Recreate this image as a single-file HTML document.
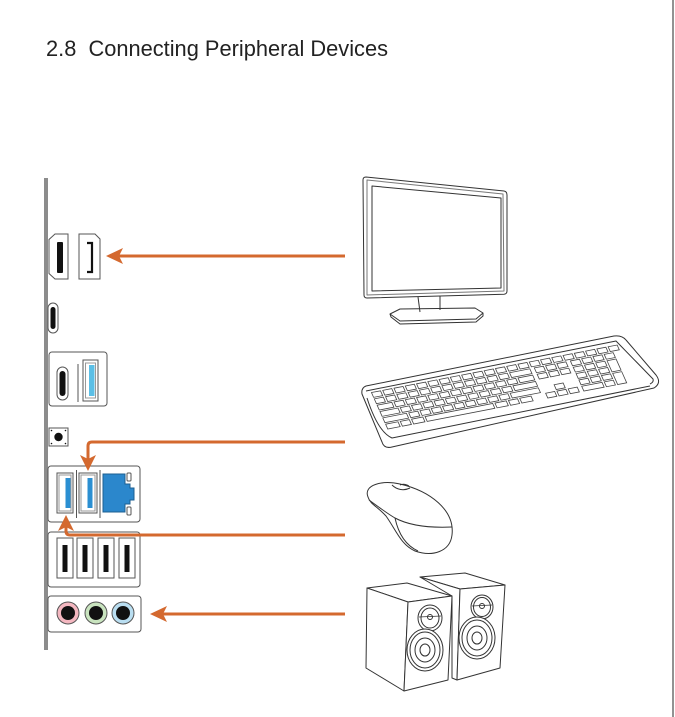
<!DOCTYPE html>
<html><head><meta charset="utf-8"><style>
html,body{margin:0;padding:0;background:#fff;}
svg{display:block;}
</style></head><body>
<svg width="675" height="717" viewBox="0 0 675 717" xmlns="http://www.w3.org/2000/svg">
<rect width="675" height="717" fill="#fff"/>
<line x1="673" y1="0" x2="673" y2="717" stroke="#777" stroke-width="1.6"/>
<text x="46" y="56" font-family="Liberation Sans, sans-serif" font-size="22" fill="#222" textLength="342" lengthAdjust="spacingAndGlyphs" style="white-space:pre">2.8  Connecting Peripheral Devices</text>

<!-- gray bar -->
<rect x="44" y="178" width="4" height="472" fill="#8c8c8c"/>

<g stroke="#555" stroke-width="1" fill="#fff">
<!-- HDMI -->
<path d="M55,234 H68 V279 H55 L49,273.5 V239.5 Z"/>
<rect x="57" y="242" width="6" height="31" rx="1" fill="#111" stroke="none"/>
<!-- DP -->
<path d="M79,234 H95 L100,239 V279 H79 Z"/>
<path d="M87,243 H92 V272 H87" fill="none" stroke="#111" stroke-width="2.2"/>
<!-- USB-C single -->
<rect x="48" y="303" width="10" height="30" rx="5"/>
<rect x="50.5" y="307" width="5" height="22" rx="2.5" fill="#111" stroke="none"/>
<!-- box with USB-C + USB-A -->
<rect x="49" y="352" width="58" height="54" rx="3"/>
<rect x="57" y="367" width="11" height="33" rx="5.5"/>
<rect x="59.5" y="371" width="6" height="25" rx="3" fill="#111" stroke="none"/>
<line x1="78" y1="364" x2="78" y2="402"/>
<rect x="83" y="360" width="15" height="41"/>
<rect x="85.5" y="363" width="10" height="35" stroke="#999"/>
<rect x="89" y="365" width="5.5" height="31" fill="#5bbfe6" stroke="none"/>
<!-- reset button -->
<rect x="49" y="428" width="19" height="18"/>
<circle cx="58.5" cy="437" r="4.2" fill="#111" stroke="none"/>
<circle cx="51.5" cy="430.5" r="0.8" fill="#111" stroke="none"/>
<circle cx="65.5" cy="430.5" r="0.8" fill="#111" stroke="none"/>
<circle cx="51.5" cy="443.5" r="0.8" fill="#111" stroke="none"/>
<circle cx="65.5" cy="443.5" r="0.8" fill="#111" stroke="none"/>
<!-- box USB + LAN -->
<rect x="48" y="466" width="92" height="56" rx="3"/>
<rect x="57" y="473" width="16" height="40"/>
<rect x="59" y="475" width="12" height="36" stroke="#999"/>
<rect x="65.5" y="478" width="5" height="30" fill="#2b8fd2" stroke="none"/>
<line x1="76.5" y1="470" x2="76.5" y2="518"/>
<rect x="79" y="473" width="18" height="40"/>
<rect x="81" y="475" width="14" height="36" stroke="#999"/>
<rect x="87.5" y="478" width="5" height="30" fill="#2b8fd2" stroke="none"/>
<line x1="100" y1="470" x2="100" y2="518"/>
<path d="M103,474 H125 V484 H130 V488 H134 V500 H130 V504 H125 V512 H103 Z" fill="#2b87cc" stroke="#1d5f91"/>
<rect x="127" y="473" width="4" height="8" rx="1"/>
<rect x="127" y="507" width="4" height="8" rx="1"/>
<!-- box 4 USB -->
<rect x="48" y="532" width="92" height="55" rx="3"/>
<rect x="57" y="538" width="16" height="40"/>
<rect x="62.5" y="545" width="5" height="27" fill="#111" stroke="none"/>
<rect x="77" y="538" width="16" height="40"/>
<rect x="82.5" y="545" width="5" height="27" fill="#111" stroke="none"/>
<rect x="98" y="538" width="16" height="40"/>
<rect x="103.5" y="545" width="5" height="27" fill="#111" stroke="none"/>
<rect x="119" y="538" width="16" height="40"/>
<rect x="124.5" y="545" width="5" height="27" fill="#111" stroke="none"/>
<!-- audio -->
<rect x="48" y="596" width="93" height="36" rx="3"/>
<circle cx="68" cy="613" r="11" fill="#f4b7c0"/>
<circle cx="68" cy="613" r="7" fill="#111" stroke="none"/>
<circle cx="96" cy="613" r="11" fill="#c9e4bf"/>
<circle cx="96" cy="613" r="7" fill="#111" stroke="none"/>
<circle cx="123" cy="613" r="11" fill="#b9def1"/>
<circle cx="123" cy="613" r="7" fill="#111" stroke="none"/>
</g>

<!-- arrows -->
<g stroke="#d4692f" stroke-width="3" fill="none">
<line x1="345" y1="256" x2="117" y2="256"/>
<path d="M345,442 H92 Q88,442 88,446 V460"/>
<path d="M345,535 H70 Q66,535 66,531 V526"/>
<line x1="345" y1="614" x2="161" y2="614"/>
</g>
<g fill="#d4692f">
<polygon points="106,256 123,248 119,256 123,264"/>
<polygon points="88,471 80,455 88,459 96,455"/>
<polygon points="66,515 58,531 66,527 74,531"/>
<polygon points="150,614 167,606 163,614 167,622"/>
</g>

<!-- monitor -->
<g stroke="#333" stroke-width="1" fill="none" stroke-linejoin="round">
<path d="M366,177 L504,191 Q507,191.5 507,195 V291 Q507,294 504,294.3 L367,298 Q364,298 364,295 L363,180 Q363,177 366,177 Z"/>
<path d="M367,180 L503,194 L504,291 L367,295 Z" stroke="#777"/>
<path d="M372,186 L501,198 L501,288 L372,291 Z"/>
<path d="M418,297 L420,312 M440,296 L440,310"/>
<path d="M390,314 L400,309 L475,308 L483,313 L476,319 L400,321 Z"/>
<path d="M390,314 L391,317 L400,324 L476,322 L483,316 L483,313"/>
</g>

<!-- keyboard -->
<g stroke="#333" stroke-width="1" fill="none" stroke-linejoin="round">
<path d="M366,386 L614,336 Q622,335 626,340 L656,375 Q662,383 654,388 L392,447 Q384,449 382,442 L362,394 Q361,388 366,386 Z"/>
<path d="M366,391 L616,341 L653,379 Q654,382 650,384"/>
<path d="M367,398 Q378,432 392,438 L650,386"/>
</g>
<g transform="matrix(11.27,-2.18,2.83,6.33,370,392)" fill="#fff" stroke="#444">
<g id="row">
<rect x="0.1" y="0.12" width="0.8" height="0.76" vector-effect="non-scaling-stroke" stroke-width="0.8"/>
</g>
</g>
<svg x="0" y="0" width="675" height="717" overflow="visible">
<g transform="matrix(11.27,-2.18,2.83,6.33,370,392)" fill="#fff" stroke="#444">
<g>
<rect x="1.1" y="0.12" width="0.8" height="0.76" vector-effect="non-scaling-stroke" stroke-width="0.8"/>
<rect x="2.1" y="0.12" width="0.8" height="0.76" vector-effect="non-scaling-stroke" stroke-width="0.8"/>
<rect x="3.1" y="0.12" width="0.8" height="0.76" vector-effect="non-scaling-stroke" stroke-width="0.8"/>
<rect x="4.1" y="0.12" width="0.8" height="0.76" vector-effect="non-scaling-stroke" stroke-width="0.8"/>
<rect x="5.1" y="0.12" width="0.8" height="0.76" vector-effect="non-scaling-stroke" stroke-width="0.8"/>
<rect x="6.1" y="0.12" width="0.8" height="0.76" vector-effect="non-scaling-stroke" stroke-width="0.8"/>
<rect x="7.1" y="0.12" width="0.8" height="0.76" vector-effect="non-scaling-stroke" stroke-width="0.8"/>
<rect x="8.1" y="0.12" width="0.8" height="0.76" vector-effect="non-scaling-stroke" stroke-width="0.8"/>
<rect x="9.1" y="0.12" width="0.8" height="0.76" vector-effect="non-scaling-stroke" stroke-width="0.8"/>
<rect x="10.1" y="0.12" width="0.8" height="0.76" vector-effect="non-scaling-stroke" stroke-width="0.8"/>
<rect x="11.1" y="0.12" width="0.8" height="0.76" vector-effect="non-scaling-stroke" stroke-width="0.8"/>
<rect x="12.1" y="0.12" width="0.8" height="0.76" vector-effect="non-scaling-stroke" stroke-width="0.8"/>
<rect x="13.1" y="0.12" width="0.8" height="0.76" vector-effect="non-scaling-stroke" stroke-width="0.8"/>
<rect x="14.1" y="0.12" width="0.8" height="0.76" vector-effect="non-scaling-stroke" stroke-width="0.8"/>
<rect x="15.1" y="0.12" width="0.8" height="0.76" vector-effect="non-scaling-stroke" stroke-width="0.8"/>
<rect x="16.1" y="0.12" width="0.8" height="0.76" vector-effect="non-scaling-stroke" stroke-width="0.8"/>
<rect x="17.1" y="0.12" width="0.8" height="0.76" vector-effect="non-scaling-stroke" stroke-width="0.8"/>
<rect x="18.1" y="0.12" width="0.8" height="0.76" vector-effect="non-scaling-stroke" stroke-width="0.8"/>
<rect x="19.1" y="0.12" width="0.8" height="0.76" vector-effect="non-scaling-stroke" stroke-width="0.8"/>
<rect x="20.1" y="0.12" width="0.8" height="0.76" vector-effect="non-scaling-stroke" stroke-width="0.8"/>
<rect x="21.1" y="0.12" width="0.8" height="0.76" vector-effect="non-scaling-stroke" stroke-width="0.8"/>
</g>
<g transform="translate(0,1)">
<rect x="0.1" y="0.12" width="0.8" height="0.76" vector-effect="non-scaling-stroke" stroke-width="0.8"/>
<rect x="1.1" y="0.12" width="0.8" height="0.76" vector-effect="non-scaling-stroke" stroke-width="0.8"/>
<rect x="2.1" y="0.12" width="0.8" height="0.76" vector-effect="non-scaling-stroke" stroke-width="0.8"/>
<rect x="3.1" y="0.12" width="0.8" height="0.76" vector-effect="non-scaling-stroke" stroke-width="0.8"/>
<rect x="4.1" y="0.12" width="0.8" height="0.76" vector-effect="non-scaling-stroke" stroke-width="0.8"/>
<rect x="5.1" y="0.12" width="0.8" height="0.76" vector-effect="non-scaling-stroke" stroke-width="0.8"/>
<rect x="6.1" y="0.12" width="0.8" height="0.76" vector-effect="non-scaling-stroke" stroke-width="0.8"/>
<rect x="7.1" y="0.12" width="0.8" height="0.76" vector-effect="non-scaling-stroke" stroke-width="0.8"/>
<rect x="8.1" y="0.12" width="0.8" height="0.76" vector-effect="non-scaling-stroke" stroke-width="0.8"/>
<rect x="9.1" y="0.12" width="0.8" height="0.76" vector-effect="non-scaling-stroke" stroke-width="0.8"/>
<rect x="10.1" y="0.12" width="0.8" height="0.76" vector-effect="non-scaling-stroke" stroke-width="0.8"/>
<rect x="11.1" y="0.12" width="0.8" height="0.76" vector-effect="non-scaling-stroke" stroke-width="0.8"/>
<rect x="12.1" y="0.12" width="1.8" height="0.76" vector-effect="non-scaling-stroke" stroke-width="0.8"/>
<rect x="14.3" y="0.12" width="0.8" height="0.76" vector-effect="non-scaling-stroke" stroke-width="0.8"/>
<rect x="15.3" y="0.12" width="0.8" height="0.76" vector-effect="non-scaling-stroke" stroke-width="0.8"/>
<rect x="16.3" y="0.12" width="0.8" height="0.76" vector-effect="non-scaling-stroke" stroke-width="0.8"/>
<rect x="17.5" y="0.12" width="0.8" height="0.76" vector-effect="non-scaling-stroke" stroke-width="0.8"/>
<rect x="18.5" y="0.12" width="0.8" height="0.76" vector-effect="non-scaling-stroke" stroke-width="0.8"/>
<rect x="19.5" y="0.12" width="0.8" height="0.76" vector-effect="non-scaling-stroke" stroke-width="0.8"/>
<rect x="20.5" y="0.12" width="0.8" height="0.76" vector-effect="non-scaling-stroke" stroke-width="0.8"/>
</g>
<g transform="translate(0,2)">
<rect x="0.1" y="0.12" width="1.3" height="0.76" vector-effect="non-scaling-stroke" stroke-width="0.8"/>
<rect x="1.6" y="0.12" width="0.8" height="0.76" vector-effect="non-scaling-stroke" stroke-width="0.8"/>
<rect x="2.6" y="0.12" width="0.8" height="0.76" vector-effect="non-scaling-stroke" stroke-width="0.8"/>
<rect x="3.6" y="0.12" width="0.8" height="0.76" vector-effect="non-scaling-stroke" stroke-width="0.8"/>
<rect x="4.6" y="0.12" width="0.8" height="0.76" vector-effect="non-scaling-stroke" stroke-width="0.8"/>
<rect x="5.6" y="0.12" width="0.8" height="0.76" vector-effect="non-scaling-stroke" stroke-width="0.8"/>
<rect x="6.6" y="0.12" width="0.8" height="0.76" vector-effect="non-scaling-stroke" stroke-width="0.8"/>
<rect x="7.6" y="0.12" width="0.8" height="0.76" vector-effect="non-scaling-stroke" stroke-width="0.8"/>
<rect x="8.6" y="0.12" width="0.8" height="0.76" vector-effect="non-scaling-stroke" stroke-width="0.8"/>
<rect x="9.6" y="0.12" width="0.8" height="0.76" vector-effect="non-scaling-stroke" stroke-width="0.8"/>
<rect x="10.6" y="0.12" width="0.8" height="0.76" vector-effect="non-scaling-stroke" stroke-width="0.8"/>
<rect x="11.6" y="0.12" width="0.8" height="0.76" vector-effect="non-scaling-stroke" stroke-width="0.8"/>
<rect x="12.6" y="0.12" width="1.3" height="0.76" vector-effect="non-scaling-stroke" stroke-width="0.8"/>
<rect x="14.3" y="0.12" width="0.8" height="0.76" vector-effect="non-scaling-stroke" stroke-width="0.8"/>
<rect x="15.3" y="0.12" width="0.8" height="0.76" vector-effect="non-scaling-stroke" stroke-width="0.8"/>
<rect x="16.3" y="0.12" width="0.8" height="0.76" vector-effect="non-scaling-stroke" stroke-width="0.8"/>
<rect x="17.5" y="0.12" width="0.8" height="0.76" vector-effect="non-scaling-stroke" stroke-width="0.8"/>
<rect x="18.5" y="0.12" width="0.8" height="0.76" vector-effect="non-scaling-stroke" stroke-width="0.8"/>
<rect x="19.5" y="0.12" width="0.8" height="0.76" vector-effect="non-scaling-stroke" stroke-width="0.8"/>
<rect x="20.5" y="0.12" width="0.8" height="1.76" vector-effect="non-scaling-stroke" stroke-width="0.8"/>
</g>
<g transform="translate(0,3)">
<rect x="0.1" y="0.12" width="1.6" height="0.76" vector-effect="non-scaling-stroke" stroke-width="0.8"/>
<rect x="1.9" y="0.12" width="0.8" height="0.76" vector-effect="non-scaling-stroke" stroke-width="0.8"/>
<rect x="2.9" y="0.12" width="0.8" height="0.76" vector-effect="non-scaling-stroke" stroke-width="0.8"/>
<rect x="3.9" y="0.12" width="0.8" height="0.76" vector-effect="non-scaling-stroke" stroke-width="0.8"/>
<rect x="4.9" y="0.12" width="0.8" height="0.76" vector-effect="non-scaling-stroke" stroke-width="0.8"/>
<rect x="5.9" y="0.12" width="0.8" height="0.76" vector-effect="non-scaling-stroke" stroke-width="0.8"/>
<rect x="6.9" y="0.12" width="0.8" height="0.76" vector-effect="non-scaling-stroke" stroke-width="0.8"/>
<rect x="7.9" y="0.12" width="0.8" height="0.76" vector-effect="non-scaling-stroke" stroke-width="0.8"/>
<rect x="8.9" y="0.12" width="0.8" height="0.76" vector-effect="non-scaling-stroke" stroke-width="0.8"/>
<rect x="9.9" y="0.12" width="0.8" height="0.76" vector-effect="non-scaling-stroke" stroke-width="0.8"/>
<rect x="10.9" y="0.12" width="0.8" height="0.76" vector-effect="non-scaling-stroke" stroke-width="0.8"/>
<rect x="11.9" y="0.12" width="2.0" height="0.76" vector-effect="non-scaling-stroke" stroke-width="0.8"/>
<rect x="17.5" y="0.12" width="0.8" height="0.76" vector-effect="non-scaling-stroke" stroke-width="0.8"/>
<rect x="18.5" y="0.12" width="0.8" height="0.76" vector-effect="non-scaling-stroke" stroke-width="0.8"/>
<rect x="19.5" y="0.12" width="0.8" height="0.76" vector-effect="non-scaling-stroke" stroke-width="0.8"/>
</g>
<g transform="translate(0,4)">
<rect x="0.1" y="0.12" width="2.1" height="0.76" vector-effect="non-scaling-stroke" stroke-width="0.8"/>
<rect x="2.4" y="0.12" width="0.8" height="0.76" vector-effect="non-scaling-stroke" stroke-width="0.8"/>
<rect x="3.4" y="0.12" width="0.8" height="0.76" vector-effect="non-scaling-stroke" stroke-width="0.8"/>
<rect x="4.4" y="0.12" width="0.8" height="0.76" vector-effect="non-scaling-stroke" stroke-width="0.8"/>
<rect x="5.4" y="0.12" width="0.8" height="0.76" vector-effect="non-scaling-stroke" stroke-width="0.8"/>
<rect x="6.4" y="0.12" width="0.8" height="0.76" vector-effect="non-scaling-stroke" stroke-width="0.8"/>
<rect x="7.4" y="0.12" width="0.8" height="0.76" vector-effect="non-scaling-stroke" stroke-width="0.8"/>
<rect x="8.4" y="0.12" width="0.8" height="0.76" vector-effect="non-scaling-stroke" stroke-width="0.8"/>
<rect x="9.4" y="0.12" width="0.8" height="0.76" vector-effect="non-scaling-stroke" stroke-width="0.8"/>
<rect x="10.4" y="0.12" width="0.8" height="0.76" vector-effect="non-scaling-stroke" stroke-width="0.8"/>
<rect x="11.4" y="0.12" width="2.5" height="0.76" vector-effect="non-scaling-stroke" stroke-width="0.8"/>
<rect x="15.3" y="0.12" width="0.8" height="0.76" vector-effect="non-scaling-stroke" stroke-width="0.8"/>
<rect x="17.5" y="0.12" width="0.8" height="0.76" vector-effect="non-scaling-stroke" stroke-width="0.8"/>
<rect x="18.5" y="0.12" width="0.8" height="0.76" vector-effect="non-scaling-stroke" stroke-width="0.8"/>
<rect x="19.5" y="0.12" width="0.8" height="0.76" vector-effect="non-scaling-stroke" stroke-width="0.8"/>
<rect x="20.5" y="0.12" width="0.8" height="1.76" vector-effect="non-scaling-stroke" stroke-width="0.8"/>
</g>
<g transform="translate(0,5)">
<rect x="0.1" y="0.12" width="1.1" height="0.76" vector-effect="non-scaling-stroke" stroke-width="0.8"/>
<rect x="1.4" y="0.12" width="0.8" height="0.76" vector-effect="non-scaling-stroke" stroke-width="0.8"/>
<rect x="2.4" y="0.12" width="1.0" height="0.76" vector-effect="non-scaling-stroke" stroke-width="0.8"/>
<rect x="3.6" y="0.12" width="6.0" height="0.76" vector-effect="non-scaling-stroke" stroke-width="0.8"/>
<rect x="9.8" y="0.12" width="1.0" height="0.76" vector-effect="non-scaling-stroke" stroke-width="0.8"/>
<rect x="11.0" y="0.12" width="0.8" height="0.76" vector-effect="non-scaling-stroke" stroke-width="0.8"/>
<rect x="12.0" y="0.12" width="1.0" height="0.76" vector-effect="non-scaling-stroke" stroke-width="0.8"/>
<rect x="14.3" y="0.12" width="0.8" height="0.76" vector-effect="non-scaling-stroke" stroke-width="0.8"/>
<rect x="15.3" y="0.12" width="0.8" height="0.76" vector-effect="non-scaling-stroke" stroke-width="0.8"/>
<rect x="16.3" y="0.12" width="0.8" height="0.76" vector-effect="non-scaling-stroke" stroke-width="0.8"/>
<rect x="17.5" y="0.12" width="1.8" height="0.76" vector-effect="non-scaling-stroke" stroke-width="0.8"/>
<rect x="19.5" y="0.12" width="0.8" height="0.76" vector-effect="non-scaling-stroke" stroke-width="0.8"/>
</g>
</g>
</svg>

<!-- mouse -->
<g stroke="#333" stroke-width="1" fill="none" stroke-linejoin="round">
<path d="M368,497 C363,485 382,480 400,484 C430,491 455,510 452,535 C450,552 432,557 415,551 C401,545 396,530 386,516 C378,507 370,504 368,497 Z"/>
<path d="M369,500 C380,508 388,514 395,518 C410,526 430,528 452,527"/>
<path d="M395,518 C398,532 405,545 418,551"/>
<path d="M392,485 C397,490 404,491 410,488 M400,485 Q404,483 409,486"/>
</g>

<!-- speakers -->
<g stroke="#333" stroke-width="1" fill="#fff" stroke-linejoin="round">
<!-- right speaker (behind) -->
<path d="M420,577 L465,573 L505,585 L460,589 Z"/>
<path d="M420,577 L460,589 L457,680 L452,678 L452,596 Z"/>
<path d="M460,589 L505,585 L500,668 L457,680 Z"/>
<ellipse cx="482" cy="607" rx="11" ry="12"/>
<ellipse cx="482" cy="607" rx="8.5" ry="9.5"/>
<circle cx="482" cy="606" r="2.5"/>
<line x1="472" y1="606" x2="492" y2="605" stroke-width="0.8"/>
<ellipse cx="477" cy="638" rx="18" ry="21"/>
<ellipse cx="477" cy="638" rx="15" ry="18"/>
<ellipse cx="477" cy="638" rx="10" ry="12"/>
<ellipse cx="477" cy="638" rx="5" ry="6"/>
<!-- left speaker -->
<path d="M367,588 L407,583 L452,596 L408,602 Z"/>
<path d="M367,588 L408,602 L404,691 L366,668 Z"/>
<path d="M408,602 L452,596 L448,680 L404,691 Z"/>
<ellipse cx="430" cy="618" rx="12" ry="13"/>
<ellipse cx="430" cy="618" rx="9" ry="10"/>
<circle cx="430" cy="617" r="2.5"/>
<line x1="419" y1="617" x2="441" y2="616" stroke-width="0.8"/>
<ellipse cx="425" cy="650" rx="18" ry="21"/>
<ellipse cx="425" cy="650" rx="15" ry="18"/>
<ellipse cx="425" cy="650" rx="10" ry="12"/>
<ellipse cx="425" cy="650" rx="5" ry="6"/>
</g>
</svg>
</body></html>
